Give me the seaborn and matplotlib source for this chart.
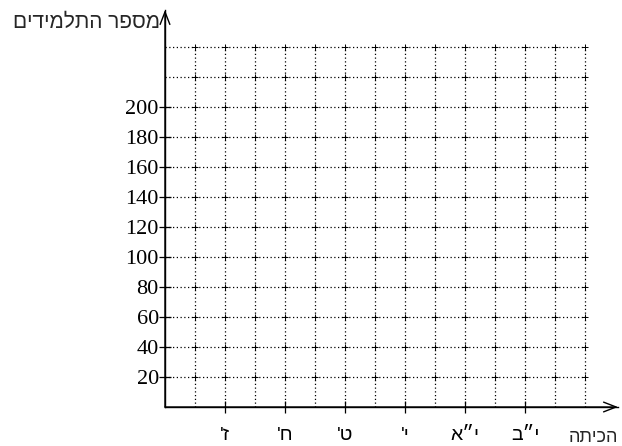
import numpy as np
import pandas as pd
import matplotlib.pyplot as plt
import seaborn as sns

sns.set_style("white")

# -----------------------------
# Data: empty worksheet grid (students per grade)
# -----------------------------
# Hebrew strings are stored in visual (left-to-right) order, since matplotlib has no bidi
grades = ["'ז", "'ח", "'ט", "'י", "א״י", "ב״י"]
grade_pos = [2, 4, 6, 8, 10, 12]
y_ticks = [20, 40, 60, 80, 100, 120, 140, 160, 180, 200]
y_grid = [20, 40, 60, 80, 100, 120, 140, 160, 180, 200, 220, 240]
x_grid = [1, 2, 3, 4, 5, 6, 7, 8, 9, 10, 11, 12, 13, 14]
x_label = "התיכה"
y_label = "םידימלתה רפסמ"

hebrew_font = ['Liberation Sans', 'DejaVu Sans']
number_font = ['Liberation Serif', 'DejaVu Serif']

# -----------------------------
# Figure
# -----------------------------
fig = plt.figure(figsize=(6.22, 4.46), dpi=100)
W, H = 622, 446
ax = fig.add_axes([165 / W, 1 - 407 / H, (618 - 165) / W, (407 - 10) / H])
ax.set_xlim(0, 453 / 30)
ax.set_ylim(0, 397 / 1.5)
ax.patch.set_alpha(0)
sns.despine(ax=ax)
for side in ['left', 'bottom']:
    ax.spines[side].set_color('black')
    ax.spines[side].set_linewidth(1.0)

dot = (0, (1, 2))
ax.hlines(y_grid, 0, max(x_grid), colors='black', linestyles=dot, linewidth=0.9)
ax.vlines(x_grid, 0, max(y_grid), colors='black', linestyles=dot, linewidth=0.9)

# small crosses where the grid lines meet
gx, gy = np.meshgrid(x_grid, y_grid)
cross = pd.DataFrame({'x': gx.ravel(), 'y': gy.ravel()})
sns.scatterplot(data=cross, x='x', y='y', marker='+', s=18, color='black',
                linewidth=0.7, ax=ax, legend=False)
ax.set_xlabel('')
ax.set_ylabel('')

# axes with open arrow heads
arrow = dict(arrowstyle='->,head_length=0.9,head_width=0.35', color='black', lw=1.0,
             shrinkA=0, shrinkB=0)
ax.annotate('', xy=(ax.get_xlim()[1], 0), xytext=(0, 0), arrowprops=arrow,
            annotation_clip=False)
ax.annotate('', xy=(0, ax.get_ylim()[1]), xytext=(0, 0), arrowprops=arrow,
            annotation_clip=False)

ax.set_yticks(y_ticks)
ax.set_yticklabels([str(v) for v in y_ticks], fontfamily=number_font, fontsize=16)
ax.set_xticks(grade_pos)
ax.set_xticklabels(grades, fontfamily=hebrew_font, fontsize=14)
ax.tick_params(axis='both', direction='inout', length=9, width=0.9, color='black',
               labelcolor='black', left=True, bottom=True)
ax.tick_params(axis='y', pad=0)
ax.tick_params(axis='x', pad=10)

ax.text(1.0, -30 / 397, x_label, transform=ax.transAxes, ha='right', va='center',
        fontfamily=hebrew_font, fontsize=13)
ax.text(-5 / 453, 1 - 12 / 397, y_label, transform=ax.transAxes, ha='right',
        va='center', fontfamily=hebrew_font, fontsize=15)

plt.savefig('out.png', dpi=100)
